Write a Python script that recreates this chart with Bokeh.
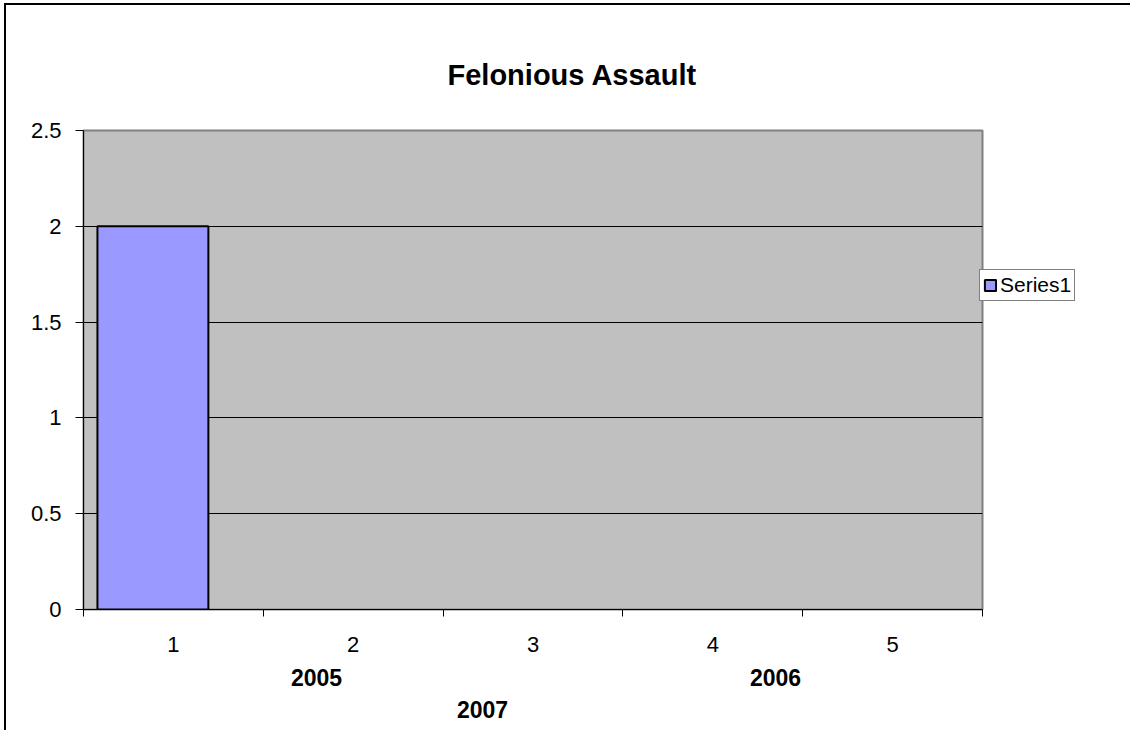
from bokeh.plotting import figure
from bokeh.models import (Range1d, FixedTicker, LinearAxis, Legend, LegendItem, ColumnDataSource)
from bokeh.transform import dodge
from bokeh.embed import file_html
from bokeh.resources import INLINE

# ---- data ----
categories = [1, 2, 3, 4, 5]
series1 = [2, None, None, None, None]
y_ticks = [0, 0.5, 1, 1.5, 2, 2.5]
y_tick_labels = ["0", "0.5", "1", "1.5", "2", "2.5"]
x_tick_labels = ["1", "2", "3", "4", "5"]
group_row1_labels = ["2005", "2006"]
group_row1_pos = [1.796, 4.349]   # category-axis positions
group_row2_labels = ["2007"]
group_row2_pos = [2.719]
title_text = "Felonious Assault"
series_name = "Series1"

FONT = "Liberation Sans"

p = figure(frame_width=899, frame_height=479,
           min_border_left=77, min_border_right=140,
           min_border_top=125, min_border_bottom=121,
           x_range=Range1d(0.5, 5.5), y_range=Range1d(0, 2.5),
           output_backend="svg", toolbar_location=None,
           background_fill_color="#C0C0C0", border_fill_color="white")
p.styles = {"border-left": "2px solid black", "border-top": "2px solid black",
            "margin-left": "4px", "margin-top": "3px"}

# title
p.title.text = title_text
p.title.align = "left"
p.title.offset = 364
p.title.standoff = 80
p.title.text_font = FONT
p.title.text_font_size = "29px"
p.title.text_font_style = "bold"
p.title.text_color = "black"

src = ColumnDataSource(dict(x=categories, top=[v if v is not None else float("nan") for v in series1]))
bars = p.vbar(x=dodge("x", -0.114, range=p.x_range), top="top", width=0.617, source=src,
              fill_color="#9999FF", line_color="black", line_width=2)

# frame outline
p.outline_line_color = "#808080"
p.outline_line_width = 2

# grid
p.xgrid.grid_line_color = None
p.ygrid.ticker = FixedTicker(ticks=y_ticks)
p.ygrid.grid_line_color = "black"
p.ygrid.grid_line_width = 1

# y axis
ya = p.yaxis[0]
ya.ticker = FixedTicker(ticks=y_ticks)
ya.major_label_overrides = {t: l for t, l in zip(y_ticks, y_tick_labels)}
ya.minor_tick_line_color = None
ya.major_tick_out = 8
ya.major_tick_in = 0
ya.major_label_standoff = 14
ya.major_label_text_font = FONT
ya.major_label_text_font_size = "22px"
ya.major_label_text_color = "black"
ya.axis_line_color = "black"
ya.major_tick_line_color = "black"

# x axis: labels at category centres, tick marks between categories
xa = p.xaxis[0]
xa.ticker = FixedTicker(ticks=categories, minor_ticks=[c - 0.5 for c in categories] + [categories[-1] + 0.5])
xa.major_label_overrides = {c: l for c, l in zip(categories, x_tick_labels)}
xa.major_tick_line_color = None
xa.major_tick_out = 7
xa.major_tick_in = 0
xa.minor_tick_line_color = "black"
xa.minor_tick_out = 7
xa.minor_tick_in = 0
xa.major_label_standoff = 20
xa.major_label_text_font = FONT
xa.major_label_text_font_size = "22px"
xa.major_label_text_color = "black"
xa.axis_line_color = "black"

# group label rows as extra axes
def group_axis(labels, pos, standoff):
    ax = LinearAxis(ticker=FixedTicker(ticks=pos),
                    major_label_overrides={q: l for q, l in zip(pos, labels)})
    ax.axis_line_color = None
    ax.major_tick_line_color = None
    ax.minor_tick_line_color = None
    ax.major_tick_out = 0
    ax.major_tick_in = 0
    ax.major_label_standoff = standoff
    ax.major_label_text_font = FONT
    ax.major_label_text_font_size = "23px"
    ax.major_label_text_font_style = "bold"
    ax.major_label_text_color = "black"
    p.add_layout(ax, "below")

group_axis(group_row1_labels, group_row1_pos, 14)
group_axis(group_row2_labels, group_row2_pos, 12)

# legend
legend = Legend(items=[LegendItem(label=series_name, renderers=[bars])])
legend.location = (-3, 308)
legend.label_text_font = FONT
legend.label_text_font_size = "21px"
legend.label_text_color = "black"
legend.glyph_width = 14
legend.glyph_height = 14
legend.label_standoff = 3
legend.padding = 3
legend.margin = 0
legend.spacing = 0
legend.border_line_color = "black"
legend.border_line_width = 1
legend.background_fill_color = "white"
legend.background_fill_alpha = 1
p.add_layout(legend, "right")

open("out.html", "w").write(file_html(p, INLINE))
